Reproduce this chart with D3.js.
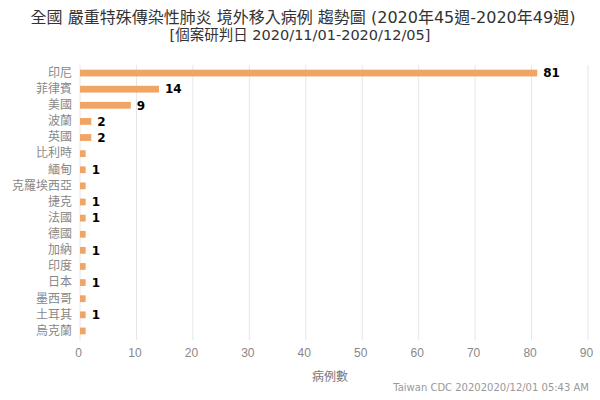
<!DOCTYPE html>
<html><head><meta charset="utf-8">
<script src="https://cdn.jsdelivr.net/npm/d3@7"></script>
<style>body{margin:0;background:#fff}svg{display:block;font-family:"DejaVu Sans","Noto Sans CJK TC",sans-serif}</style>
</head><body>
<svg id="c" width="600" height="400"></svg>
<script>
const countries = ["印尼","菲律賓","美國","波蘭","英國","比利時","緬甸","克羅埃西亞","捷克","法國","德國","加納","印度","日本","墨西哥","土耳其","烏克蘭"];
const cases = [81,14,9,2,2,1,1,1,1,1,1,1,1,1,1,1,1];
const showLabel = [true,true,true,true,true,false,true,false,true,true,false,true,false,true,false,true,false];
const xTicks = [0,10,20,30,40,50,60,70,80,90];
const title1 = "全國 嚴重特殊傳染性肺炎 境外移入病例 趨勢圖 (2020年45週-2020年49週)";
const title2 = "[個案研判日 2020/11/01-2020/12/05]";
const xTitle = "病例數";
const footer = "Taiwan CDC 20202020/12/01 05:43 AM";

const svg = d3.select("#c");
const x = d3.scaleLinear().domain([0,90]).range([80,588]);
const y = d3.scaleBand().domain(countries).range([65,339]).paddingInner(0.58).paddingOuter(0.29);

// grid
svg.append("g").selectAll("line").data(xTicks).join("line")
  .attr("x1",d=>x(d)).attr("x2",d=>x(d)).attr("y1",65).attr("y2",340)
  .attr("stroke","#e6e6e6").attr("stroke-width",1);

// bars
svg.append("g").selectAll("rect").data(countries).join("rect")
  .attr("x",x(0)).attr("y",d=>y(d))
  .attr("width",(d,i)=>x(cases[i])-x(0)).attr("height",y.bandwidth())
  .attr("fill","#f0a565");

// value labels
svg.append("g").selectAll("text").data(countries.filter((d,i)=>showLabel[i])).join("text")
  .attr("x",d=>x(cases[countries.indexOf(d)])+6).attr("y",d=>y(d)+y.bandwidth()/2)
  .attr("dy","0.36em").attr("font-size",12).attr("font-weight","bold").attr("fill","#000")
  .text(d=>cases[countries.indexOf(d)]);

// y axis labels
const ya = svg.append("g").attr("transform","translate(80,0)")
  .call(d3.axisLeft(y).tickSize(0).tickPadding(8));
ya.select(".domain").remove();
ya.selectAll("text").attr("font-size",12).attr("fill","#888").attr("font-family","'Noto Sans CJK TC',sans-serif");

// x axis
const xa = svg.append("g").attr("transform","translate(0,340)")
  .call(d3.axisBottom(x).tickValues(xTicks).tickSize(0).tickPadding(8));
xa.select(".domain").remove();
xa.selectAll("text").attr("font-size",12).attr("fill","#888").attr("dx","-2");

svg.append("text").attr("x",330).attr("y",381).attr("text-anchor","middle")
  .attr("font-size",12).attr("fill","#777").attr("font-family","'Noto Sans CJK TC',sans-serif").text(xTitle);
svg.append("text").attr("x",589).attr("y",391).attr("text-anchor","end")
  .attr("font-size",10).attr("fill","#999").text(footer);

svg.append("text").attr("x",303).attr("y",23).attr("text-anchor","middle")
  .attr("font-size",16).attr("fill","#333").text(title1);
svg.append("text").attr("x",300).attr("y",40).attr("text-anchor","middle")
  .attr("font-size",14.5).attr("fill","#333").text(title2);
</script>
</body></html>
